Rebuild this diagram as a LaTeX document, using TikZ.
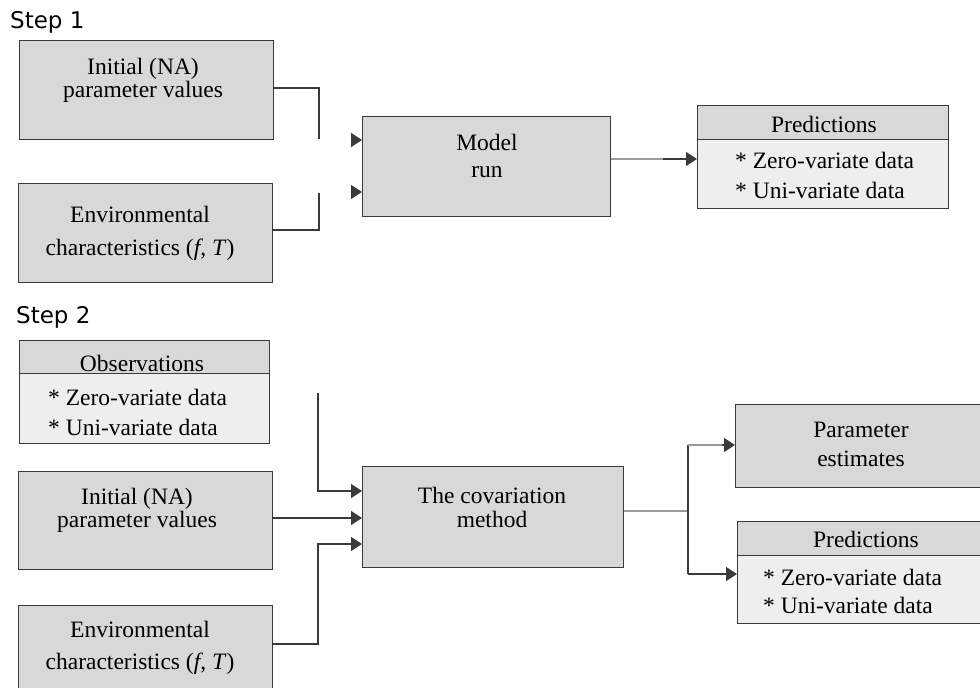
\documentclass[tikz,border=0pt]{standalone}
\usepackage{fontspec}
\setmainfont{Liberation Serif}
\newfontfamily\stepfont{DejaVu Sans}
\usetikzlibrary{arrows.meta}
\definecolor{boxfill}{HTML}{D8D8D8}
\definecolor{bodyfill}{HTML}{EEEEEE}
\definecolor{edge}{HTML}{3A3A3A}
\definecolor{lightline}{HTML}{9A9A9A}
\begin{document}
\begin{tikzpicture}[x=1pt,y=-1pt,
  box/.style={draw=edge, fill=boxfill, line width=1pt, inner sep=0pt, anchor=north west},
  bodybox/.style={box, fill=bodyfill},
  txt/.style={font=\fontsize{23.5}{26}\selectfont, inner sep=0pt, anchor=base},
  ltxt/.style={txt, anchor=base west},
  steplbl/.style={font=\stepfont\fontsize{23}{26}\selectfont, inner sep=0pt, anchor=base west},
  conn/.style={draw=edge, line width=1.2pt},
  lconn/.style={draw=lightline, line width=1.2pt},
  tip/.style={-{Triangle[length=11pt,width=14pt]}}
]
\useasboundingbox (0,0) rectangle (980,688);
\clip (0,0) rectangle (980,688);
\fill[white] (0,0) rectangle (980,688);

% ---------------- Step 1 ----------------
\node[steplbl] (s1) at (10,28) {Step 1};

\node[box, minimum width=254, minimum height=99] (a1) at (19,40) {};
\node[txt] (a1t1) at (143,74) {Initial (NA)};
\node[txt] (a1t2) at (143,97) {parameter values};

\node[box, minimum width=254, minimum height=99] (a2) at (18,183) {};
\node[txt] (a2t1) at (140,222) {Environmental};
\node[txt] (a2t2) at (140,255) {characteristics (\textit{f},\ \textit{T})};

\node[box, minimum width=248, minimum height=100] (m) at (362,116) {};
\node[txt] (mt1) at (487,150) {Model};
\node[txt] (mt2) at (487,177) {run};

\node[box, minimum width=251, minimum height=34] (p1h) at (697,105) {};
\node[bodybox, minimum width=251, minimum height=69] (p1b) at (697,139) {};
\node[txt] (p1t) at (824,132) {Predictions};
\node[ltxt] (p1l1) at (735,168) {* Zero-variate data};
\node[ltxt] (p1l2) at (735,198) {* Uni-variate data};

% connectors step 1 (broken before the model box)
\coordinate (c1) at (319,139);
\coordinate (c2) at (319,193);
\draw[conn] (a1.east |- 0,88) -| (c1);
\draw[conn] (a2.east |- 0,230) -| (c2);
\coordinate (h1) at (351,140);
\coordinate (h2) at (351,192);
\draw[conn, tip] (h1) -- (h1 -| m.west);
\draw[conn, tip] (h2) -- (h2 -| m.west);
\coordinate (mp) at (663,159);
\draw[lconn] (m.east |- mp) -- (mp);
\draw[conn, tip] (mp) -- (mp -| p1b.west);

% ---------------- Step 2 ----------------
\node[steplbl] (s2) at (16,323) {Step 2};

\node[box, minimum width=250, minimum height=33] (oh) at (19,340) {};
\node[bodybox, minimum width=250, minimum height=70] (ob) at (19,373) {};
\node[txt] (oht) at (142,371) {Observations};
\node[ltxt] (obl1) at (48,405) {* Zero-variate data};
\node[ltxt] (obl2) at (48,435) {* Uni-variate data};

\node[box, minimum width=254, minimum height=98] (b1) at (18,471) {};
\node[txt] (b1t1) at (137,504) {Initial (NA)};
\node[txt] (b1t2) at (137,527) {parameter values};

\node[box, minimum width=254, minimum height=100] (b2) at (18,605) {};
\node[txt] (b2t1) at (140,637) {Environmental};
\node[txt] (b2t2) at (140,669) {characteristics (\textit{f},\ \textit{T})};

\node[box, minimum width=261, minimum height=101] (cov) at (362,466) {};
\node[txt] (covt1) at (492,503) {The covariation};
\node[txt] (covt2) at (492,527) {method};

\node[box, minimum width=252, minimum height=83] (pe) at (735,404) {};
\node[txt] (pet1) at (861,437) {Parameter};
\node[txt] (pet2) at (861,466) {estimates};

\node[box, minimum width=252, minimum height=34] (p2h) at (737,521) {};
\node[bodybox, minimum width=252, minimum height=68] (p2b) at (737,555) {};
\node[txt] (p2t) at (866,547) {Predictions};
\node[ltxt] (p2l1) at (763,585) {* Zero-variate data};
\node[ltxt] (p2l2) at (763,613) {* Uni-variate data};

% connectors step 2
\coordinate (o1) at (318,393);
\draw[conn, tip] (o1) |- (cov.west |- 0,491);
\draw[conn, tip] (b1.east |- 0,518) -- (cov.west |- 0,518);
\coordinate (e1) at (318,544);
\draw[conn, tip] (b2.east |- 0,644) -| (e1) -- (e1 -| cov.west);

\coordinate (sp) at (688,511);
\draw[lconn] (cov.east |- sp) -- (sp);
\draw[conn] (sp |- 0,445) -- (sp |- 0,574);
\draw[lconn] (sp |- 0,445) -- (722,445);
\draw[conn, tip] (722,445) -- (pe.west |- 0,445);
\draw[conn, tip] (sp |- 0,574) -- (p2b.west |- 0,574);
\end{tikzpicture}
\end{document}
